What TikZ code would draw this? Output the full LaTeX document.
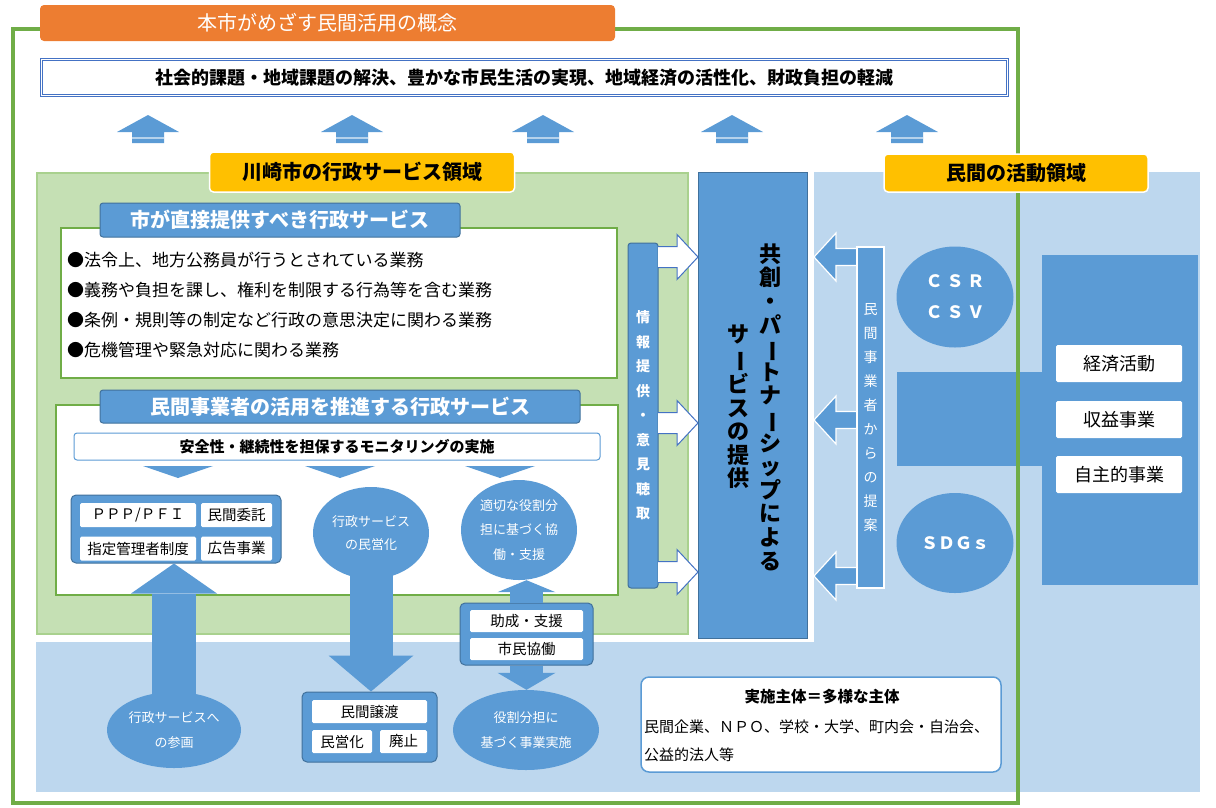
\documentclass[tikz,border=0pt]{standalone}
\usepackage{fontspec}
\setmainfont{Noto Sans CJK JP}
\usepackage{graphicx}
\usetikzlibrary{shapes.geometric,arrows.meta}

\definecolor{mainblue}{HTML}{5B9BD5}
\definecolor{darkblue}{HTML}{41719C}
\definecolor{paleblue}{HTML}{BDD7EE}
\definecolor{palegreen}{HTML}{C5E0B4}
\definecolor{linegreen}{HTML}{A9D18E}
\definecolor{framegreen}{HTML}{70AD47}
\definecolor{orangelab}{HTML}{ED7D31}
\definecolor{yellowlab}{HTML}{FFC000}
\definecolor{goalblue}{HTML}{4472C4}

%% long vowel mark for the vertical lines
\newcommand{\chouon}{\rotatebox[origin=c]{-90}{ー}}

\begin{document}
\begin{tikzpicture}[x=1pt,y=-1pt,
		bluebar/.style={draw=darkblue,fill=mainblue,line width=1pt,rounded corners=3pt,text=white,inner sep=0pt},
		whitecell/.style={fill=white,rounded corners=1.5pt,inner sep=0pt,font=\fontsize{14.5}{14.5}\selectfont},
		ball/.style={ellipse,fill=mainblue,text=white,inner sep=0pt,align=center},
		yellowtag/.style={fill=yellowlab,draw=white,line width=1.5pt,rounded corners=4pt,font=\fontsize{20}{20}\selectfont\bfseries},
		greenbox/.style={draw=framegreen,fill=white,line width=1.2pt},
		vline/.style={align=center,inner sep=0pt}]
	\useasboundingbox (0,0) rectangle (1216,807);

	%% background areas
	\fill[paleblue] (814,172) rectangle (1200,792);
	\fill[paleblue] (36,642) rectangle (1200,792);
	\draw[linegreen,fill=palegreen,line width=1.5pt] (37,173) rectangle (688,634);
	\fill[mainblue] (897,372) rectangle (1042,466);

	%% outer frame
	\draw[framegreen,line width=4.5pt] (13,29) rectangle (1018,803);

	%% concept and goal
	\node[fill=orangelab,rounded corners=4pt,minimum width=575,minimum height=36,text=white,font=\fontsize{20}{20}\selectfont] (concept) at (327.5,23) {本市がめざす民間活用の概念};
	\node[draw=goalblue,double=white,double distance=1.5pt,line width=1.2pt,minimum width=966,minimum height=36,font=\fontsize{18}{18}\selectfont\bfseries] (goal) at (524.5,77.5) {社会的課題・地域課題の解決、豊かな市民生活の実現、地域経済の活性化、財政負担の軽減};
	\foreach \x in {148,352,543,732,907}{
		\fill[mainblue] (\x-16,143) -- (\x-16,132) -- (\x-31,132) -- (\x,115) -- (\x+31,132) -- (\x+16,132) -- (\x+16,143) -- cycle;
		\draw[white!55!mainblue,line width=1.5pt] (\x-16,138) -- (\x+16,138);
	}

	%% area tags
	\node[yellowtag,minimum width=305,minimum height=40] (govarea) at (362,172) {川崎市の行政サービス領域};
	\node[yellowtag,minimum width=264,minimum height=38] (privarea) at (1016,173) {民間の活動領域};

	%% services the city gives itself
	\node[greenbox,minimum width=556,minimum height=150] (direct) at (339,303) {};
	\node[bluebar,minimum width=360,minimum height=34,font=\fontsize{20}{20}\selectfont\bfseries] (directtag) at (280,220) {市が直接提供すべき行政サービス};
	\node[anchor=west,align=left,inner sep=0pt,font=\fontsize{17}{29.8}\selectfont] (tasks) at (67,305) {●法令上、地方公務員が行うとされている業務\\●義務や負担を課し、権利を制限する行為等を含む業務\\●条例・規則等の制定など行政の意思決定に関わる業務\\●危機管理や緊急対応に関わる業務};

	%% services using private operators
	\node[greenbox,minimum width=562,minimum height=190] (promote) at (337,500) {};
	\node[bluebar,minimum width=480,minimum height=33,font=\fontsize{20}{20}\selectfont\bfseries] (promotetag) at (340,406.5) {民間事業者の活用を推進する行政サービス};
	\node[draw=mainblue,fill=white,line width=1pt,rounded corners=3pt,minimum width=526,minimum height=27,font=\fontsize{15}{15}\selectfont\bfseries] (monitor) at (337,446.5) {安全性・継続性を担保するモニタリングの実施};
	\foreach \x in {178,340,500}
		\fill[mainblue] (\x-35,466) -- (\x+35,466) -- (\x,478) -- cycle;

	\node[bluebar,rounded corners=5pt,minimum width=210,minimum height=68] (schemes) at (176,529) {};
	\node[whitecell,minimum width=116,minimum height=24] (pppfi) at (138,515) {ＰＰＰ/ＰＦＩ};
	\node[whitecell,minimum width=71,minimum height=24] (itaku) at (236.5,515) {民間委託};
	\node[whitecell,minimum width=116,minimum height=24] (shitei) at (138,548.5) {指定管理者制度};
	\node[whitecell,minimum width=71,minimum height=24] (kokoku) at (236.5,548.5) {広告事業};

	\node[ball,minimum width=116,minimum height=92,font=\fontsize{13}{23}\selectfont] (privatize) at (371,533) {行政サービス\\の民営化};
	\node[ball,minimum width=116,minimum height=100,font=\fontsize{13}{24.5}\selectfont] (share) at (519,530) {適切な役割分\\担に基づく協\\働・支援};

	%% lower row
	\node[ball,minimum width=134,minimum height=76,font=\fontsize{13}{25}\selectfont] (join) at (174,730) {行政サービスへ\\の参画};
	\node[bluebar,rounded corners=5pt,minimum width=135,minimum height=70] (transfer) at (369.5,727) {};
	\node[whitecell,minimum width=115,minimum height=23] (joto) at (369.5,711.5) {民間譲渡};
	\node[whitecell,minimum width=60,minimum height=23] (mineika) at (342,741.5) {民営化};
	\node[whitecell,minimum width=47,minimum height=23] (haishi) at (403.5,741.5) {廃止};
	\node[bluebar,rounded corners=5pt,minimum width=133,minimum height=62] (support) at (526.5,634) {};
	\node[whitecell,minimum width=113,minimum height=22] (josei) at (526.5,621) {助成・支援};
	\node[whitecell,minimum width=113,minimum height=22] (kyodo) at (526.5,649) {市民協働};
	\node[ball,minimum width=146,minimum height=80,font=\fontsize{13}{25}\selectfont] (roles) at (526,730) {役割分担に\\基づく事業実施};

	%% block arrows
	\draw[mainblue,line width=44pt,-{Triangle[line width=0pt,width=86pt,length=30pt]}] ([yshift=-5pt]join.north) -- (join.north |- schemes.south);
	\draw[mainblue,line width=43pt,-{Triangle[line width=0pt,width=85pt,length=36pt]}] ([yshift=5pt]privatize.south) -- (privatize.south |- transfer.north);
	\draw[mainblue,line width=33pt,-{Triangle[line width=0pt,width=58pt,length=12pt]}] (support.north) -- (support.north |- share.south);
	\draw[mainblue,line width=33pt,-{Triangle[line width=0pt,width=58pt,length=17pt]}] (support.south) -- (support.south |- roles.north);

	%% co-creation column
	\node[bluebar,minimum width=30,minimum height=345,font=\fontsize{14}{24.5}\selectfont\bfseries,align=center] (info) at (643,415.5) {情\\報\\提\\供\\・\\意\\見\\聴\\取};
	\node[draw=darkblue,fill=mainblue,line width=0.8pt,minimum width=109,minimum height=466] (cocreate) at (752.5,405) {};
	\node[vline,font=\fontsize{22}{23.6}\selectfont\bfseries] (cocreateR) at (770,407) {共\\創\\・\\パ\\\chouon\\ト\\ナ\\\chouon\\シ\\ッ\\プ\\に\\よ\\る};
	\node[vline,font=\fontsize{22}{23.6}\selectfont\bfseries] (cocreateL) at (738,407) {サ\\\chouon\\ビ\\ス\\の\\提\\供};
	\foreach \y in {257,423,572}
		\draw[goalblue,fill=white,line width=1pt] (658,\y-10.5) -- (677,\y-10.5) -- (677,\y-22.5) -- (698,\y) -- (677,\y+22.5) -- (677,\y+10.5) -- (658,\y+10.5);
	\foreach \y in {257,420,576}
		\draw[white,fill=mainblue,line width=1.2pt] (857,\y-8.5) -- (836,\y-8.5) -- (836,\y-24) -- (814,\y) -- (836,\y+24) -- (836,\y+8.5) -- (857,\y+8.5);
	\node[fill=mainblue,draw=white,line width=1.5pt,minimum width=27,minimum height=341,text=white,font=\fontsize{14}{24}\selectfont,vline] (proposal) at (870.5,417.5) {民\\間\\事\\業\\者\\か\\ら\\の\\提\\案};

	%% private activity
	\node[ball,minimum width=117,minimum height=101,font=\fontsize{17}{31}\selectfont\bfseries] (csr) at (955,297) {Ｃ\hspace{4pt}Ｓ\hspace{4pt}Ｒ\\Ｃ\hspace{4pt}Ｓ\hspace{4pt}Ｖ};
	\node[ball,minimum width=117,minimum height=100,font=\fontsize{17}{17}\selectfont\bfseries] (sdgs) at (955,543) {ＳＤＧｓ};
	\fill[mainblue] (1042,255) rectangle (1198,585);
	\node[whitecell,minimum width=126,minimum height=37,font=\fontsize{18}{18}\selectfont] (keizai) at (1119,363.5) {経済活動};
	\node[whitecell,minimum width=126,minimum height=37,font=\fontsize{18}{18}\selectfont] (shueki) at (1119,419.5) {収益事業};
	\node[whitecell,minimum width=126,minimum height=37,font=\fontsize{18}{18}\selectfont] (jishu) at (1119,474.5) {自主的事業};

	%% implementers
	\node[draw=mainblue,fill=white,line width=1.5pt,rounded corners=8pt,minimum width=360,minimum height=95] (actors) at (821,724.5) {};
	\node[font=\fontsize{15.5}{15.5}\selectfont\bfseries] (actorstitle) at (822,697) {実施主体＝多様な主体};
	\node[anchor=west,align=left,inner sep=0pt,font=\fontsize{15}{28}\selectfont] (actorslist) at (644,741) {民間企業、ＮＰＯ、学校・大学、町内会・自治会、\\公益的法人等};
\end{tikzpicture}
\end{document}
